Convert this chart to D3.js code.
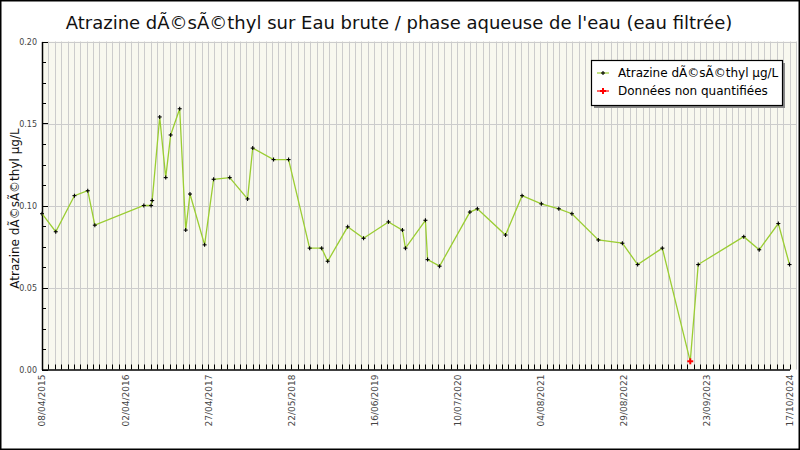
<!DOCTYPE html>
<html>
<head>
<meta charset="utf-8">
<script src="https://cdn.jsdelivr.net/npm/d3@7"></script>
<style>
  body { margin: 0; background: #fff; }
  svg { display: block; font-family: "DejaVu Sans", sans-serif; }
</style>
</head>
<body>
<svg id="chart" width="800" height="450"></svg>
<script>
// sample dates and measured values (µg/L)
const dates = [
  "2015-04-08", "2015-06-11", "2015-09-06", "2015-11-07", "2015-12-10",
  "2016-07-25", "2016-08-28", "2016-09-02", "2016-10-07", "2016-11-04",
  "2016-11-27", "2017-01-08", "2017-02-05", "2017-02-25", "2017-05-04",
  "2017-06-15", "2017-08-29", "2017-11-20", "2017-12-14", "2018-03-21",
  "2018-05-30", "2018-09-05", "2018-10-31", "2018-11-28", "2019-03-01",
  "2019-05-14", "2019-09-07", "2019-11-11", "2019-11-25", "2020-02-26",
  "2020-03-07", "2020-05-02", "2020-09-20", "2020-10-25", "2021-03-05",
  "2021-05-21", "2021-08-19", "2021-11-08", "2022-01-08", "2022-05-11",
  "2022-08-31", "2022-11-10", "2023-03-05", "2023-07-13", "2023-08-19",
  "2024-03-18", "2024-05-29", "2024-08-26", "2024-10-17"
]
const values = [
  0.095, 0.084, 0.106, 0.109, 0.088,
  0.100, 0.100, 0.103, 0.154, 0.117,
  0.143, 0.159, 0.085, 0.107, 0.076,
  0.116, 0.117, 0.104, 0.135, 0.128,
  0.128, 0.074, 0.074, 0.066, 0.087,
  0.080, 0.090, 0.085, 0.074, 0.091,
  0.067, 0.063, 0.096, 0.098, 0.082,
  0.106, 0.101, 0.098, 0.095, 0.079,
  0.077, 0.064, 0.074, 0.005, 0.064,
  0.081, 0.073, 0.089, 0.064
]
// true = value below quantification limit
const nonQuantified = dates.map((d) => d === "2023-07-13")

const xDomain = ["2015-04-08", "2024-10-17"]
const tickLabels = [
  "08/04/2015", "02/04/2016", "27/04/2017", "22/05/2018", "16/06/2019",
  "10/07/2020", "04/08/2021", "29/08/2022", "23/09/2023", "17/10/2024"
]
const yTicks = [0, 0.05, 0.1, 0.15, 0.2]

const title = "Atrazine dÃ©sÃ©thyl sur Eau brute / phase aqueuse de l'eau (eau filtrée)"
const yTitle = "Atrazine dÃ©sÃ©thyl µg/L"
const legendLabels = ["Atrazine dÃ©sÃ©thyl µg/L", "Données non quantifiées"]

const W = 800, H = 450
const pLeft = 42, pRight = 789.5, pTop = 41.5, pBottom = 369.5, bgRight = 797
const minorPerLabel = 13

const parse = d3.timeParse("%Y-%m-%d")
const data = dates.map((d, i) => ({ date: parse(d), value: values[i], nq: nonQuantified[i] }))

const svg = d3.select("#chart")

const x = d3.scaleTime().domain(xDomain.map(parse)).range([pLeft, pRight])
const y = d3.scaleLinear().domain([0, 0.2]).range([pBottom, pTop])

// evenly spaced ticks across the domain
const t0 = x.domain()[0].getTime(), t1 = x.domain()[1].getTime()
const nMinor = (tickLabels.length - 1) * minorPerLabel
const step = (t1 - t0) / nMinor
const minorDates = d3.range(0, nMinor + 2).map((i) => new Date(t0 + i * step))
const majorDates = tickLabels.map((_, i) => new Date(t0 + i * minorPerLabel * step))

// frame
svg.append("rect").attr("x", 0.75).attr("y", 0.75).attr("width", W - 1.5).attr("height", H - 1.5)
  .attr("fill", "#fff").attr("stroke", "#000").attr("stroke-width", 1.5)

// plot background
svg.append("rect").attr("x", pLeft).attr("y", pTop).attr("width", bgRight - pLeft).attr("height", pBottom - pTop)
  .attr("fill", "#f8f8ef")

// grid
const grid = svg.append("g").attr("stroke", "#cccccc").attr("stroke-width", 1)
grid.selectAll("line.v")
  .data(minorDates.filter((d) => x(d) < bgRight))
  .join("line")
  .attr("x1", (d) => Math.round(x(d)) + 0.5)
  .attr("x2", (d) => Math.round(x(d)) + 0.5)
  .attr("y1", pTop)
  .attr("y2", pBottom)
grid.selectAll("line.h")
  .data(yTicks.slice(1))
  .join("line")
  .attr("x1", pLeft)
  .attr("x2", bgRight)
  .attr("y1", (d) => Math.round(y(d)) + 0.5)
  .attr("y2", (d) => Math.round(y(d)) + 0.5)

// y axis minor and major ticks
const yMinor = d3.range(0, 0.2001, 0.0125)
svg.append("g")
  .selectAll("line")
  .data(yMinor)
  .join("line")
  .attr("x1", pLeft)
  .attr("x2", (d) => pLeft + (yTicks.some((t) => Math.abs(t - d) < 1e-6) ? 6 : 4))
  .attr("y1", (d) => Math.round(y(d)) + 0.5)
  .attr("y2", (d) => Math.round(y(d)) + 0.5)
  .attr("stroke", "#000")

const yAxis = svg.append("g")
  .attr("transform", `translate(${pLeft},0)`)
  .call(d3.axisLeft(y).tickValues(yTicks).tickFormat(d3.format(".2f")).tickSize(0).tickPadding(5))
yAxis.select(".domain").attr("stroke", "#000").attr("stroke-width", 1.5)
yAxis.selectAll("text").attr("font-size", 8).attr("fill", "#444").attr("font-family", "DejaVu Sans")

// x axis ticks
svg.append("g")
  .selectAll("line")
  .data(minorDates.filter((d) => x(d) <= pRight + 1))
  .join("line")
  .attr("x1", (d) => Math.round(x(d)) + 0.5)
  .attr("x2", (d) => Math.round(x(d)) + 0.5)
  .attr("y1", pBottom)
  .attr("y2", pBottom - 5)
  .attr("stroke", "#000")

const xAxis = svg.append("g")
  .attr("transform", `translate(0,${pBottom})`)
  .call(d3.axisBottom(x).tickValues(majorDates).tickFormat((d, i) => tickLabels[i]).tickSize(0))
xAxis.select(".domain").attr("stroke", "#000").attr("stroke-width", 1.5)
xAxis.selectAll("text")
  .attr("font-size", 9)
  .attr("fill", "#444")
  .attr("font-family", "DejaVu Sans")
  .attr("text-anchor", "end")
  .attr("transform", "rotate(-90)")
  .attr("x", -5)
  .attr("y", 0)
  .attr("dy", "0.33em")

// series line
const line = d3.line().x((d) => x(d.date)).y((d) => y(d.value))
svg.append("path")
  .datum(data)
  .attr("d", line)
  .attr("fill", "none")
  .attr("stroke", "#9acd32")
  .attr("stroke-width", 1.3)

// markers
function cross(g, size, color, width) {
  g.append("line").attr("x1", -size).attr("x2", size).attr("y1", 0).attr("y2", 0)
    .attr("stroke", color).attr("stroke-width", width)
  g.append("line").attr("x1", 0).attr("x2", 0).attr("y1", -size).attr("y2", size)
    .attr("stroke", color).attr("stroke-width", width)
}
svg.append("g")
  .selectAll("g")
  .data(data)
  .join("g")
  .attr("transform", (d) => `translate(${x(d.date)},${y(d.value)})`)
  .each(function (d) {
    if (d.nq) cross(d3.select(this), 3, "#ff0000", 2)
    else cross(d3.select(this), 2, "#000", 1.1)
  })

// title
svg.append("text")
  .attr("x", 399)
  .attr("y", 29)
  .attr("text-anchor", "middle")
  .attr("font-size", 18)
  .attr("fill", "#111")
  .text(title)

// y title
svg.append("text")
  .attr("transform", `translate(19,${(pTop + pBottom) / 2 + 3}) rotate(-90)`)
  .attr("text-anchor", "middle")
  .attr("font-size", 12)
  .attr("fill", "#111")
  .text(yTitle)

// legend
const lg = svg.append("g").attr("transform", "translate(591,60)")
lg.append("rect").attr("x", 3).attr("y", 3).attr("width", 191).attr("height", 45).attr("fill", "#888")
lg.append("rect").attr("x", 0.5).attr("y", 0.5).attr("width", 191).attr("height", 45)
  .attr("fill", "#fff").attr("stroke", "#000").attr("stroke-width", 1.2)
const legendColors = [["#9acd32", "#000"], ["#ff0000", "#ff0000"]]
legendLabels.forEach((lab, i) => {
  const row = lg.append("g").attr("transform", `translate(0,${13 + i * 18})`)
  row.append("line").attr("x1", 6).attr("x2", 18).attr("y1", 0).attr("y2", 0)
    .attr("stroke", legendColors[i][0]).attr("stroke-width", 1.2)
  const m = row.append("g").attr("transform", "translate(12,0)")
  if (i === 0) cross(m, 2, "#000", 1.1)
  else cross(m, 3, "#ff0000", 2)
  row.append("text").attr("x", 27).attr("y", 4).attr("font-size", 12).attr("fill", "#000").text(lab)
})
</script>
</body>
</html>
